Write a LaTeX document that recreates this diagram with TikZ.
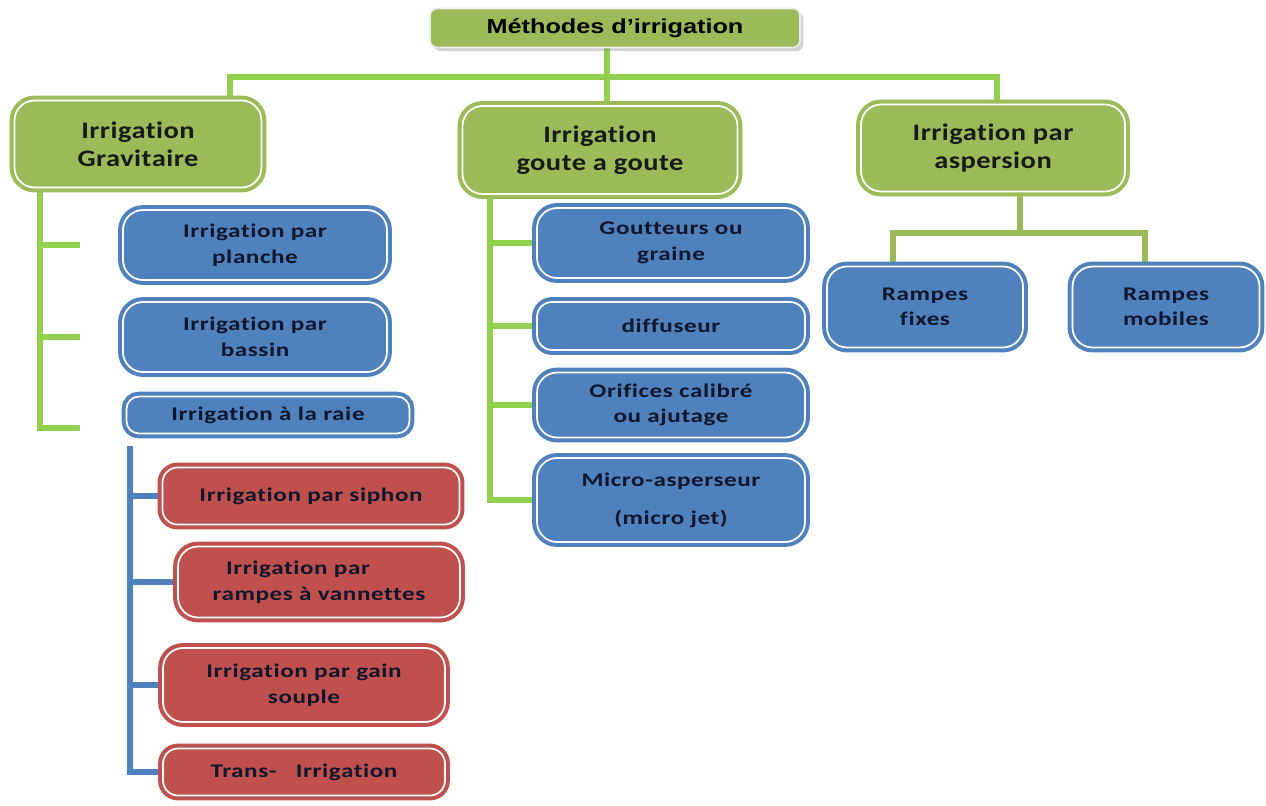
\documentclass[tikz,border=0pt]{standalone}
\usepackage{fontspec}
\setmainfont{Carlito}[Ligatures=NoCommon]
\newfontfamily\boxfont[FakeStretch=1.3, LetterSpace=3, Ligatures=NoCommon]{Carlito}
\newfontfamily\branchfont[FakeStretch=1.2, LetterSpace=2, Ligatures=NoCommon]{Carlito}
\newfontfamily\titlefont[FakeStretch=1.25]{Liberation Sans}
\usepackage{tikz}
\usetikzlibrary{shadows,backgrounds}

\definecolor{gfill}{RGB}{155,187,89}
\definecolor{gline}{RGB}{146,208,80}
\definecolor{bfill}{RGB}{79,129,189}
\definecolor{rfill}{RGB}{192,80,77}
\definecolor{ink}{RGB}{16,22,44}

\newcommand\topfont{\titlefont\bfseries\fontsize{11.5}{14}\selectfont}
\newcommand\brfont{\branchfont\bfseries\fontsize{13.5}{16}\selectfont}
\newcommand\tipfont{\boxfont\bfseries\fontsize{11}{14.5}\selectfont}

\begin{document}
\begin{tikzpicture}[x=0.02cm, y=-0.02cm,
	box/.style={rounded corners=0.4cm, line width=2.3pt, double=white, double distance=1pt, inner sep=0pt, align=center},
	topbox/.style={fill=gfill, draw=white!85!gray, line width=1pt, rounded corners=4pt, drop shadow={shadow xshift=2pt, shadow yshift=-2pt, opacity=.35}, font=\topfont, text=black},
	greenbox/.style={box, draw=gfill, fill=gfill, font=\brfont, text=black!90},
	bluebox/.style={box, draw=bfill, fill=bfill, font=\tipfont, text=ink},
	redbox/.style={box, draw=rfill, fill=rfill, font=\tipfont, text=ink},
	gwire/.style={draw=gline, line width=3.4pt},
	owire/.style={draw=gfill, line width=3.4pt},
	bwire/.style={draw=bfill, line width=3pt}]
	\useasboundingbox (0,0) rectangle (1266,805);

	% titre
	\node[topbox, minimum width=7.4cm, minimum height=0.78cm] (meth) at (615,28) {Méthodes d’irrigation};

	% trois methodes
	\node[greenbox, minimum width=4.94cm, minimum height=1.74cm] (grav) at (138,144) {Irrigation\\Gravitaire};
	\node[greenbox, minimum width=5.5cm, minimum height=1.76cm] (goute) at (600,150) {Irrigation\\goute a goute};
	\node[greenbox, minimum width=5.28cm, minimum height=1.74cm] (asp) at (993,148) {Irrigation par\\aspersion};

	% gravitaire
	\node[bluebox, minimum width=5.28cm, minimum height=1.4cm] (planche) at (255,245) {Irrigation par\\planche};
	\node[bluebox, minimum width=5.28cm, minimum height=1.4cm] (bassin) at (255,337) {Irrigation par\\bassin};
	\node[bluebox, rounded corners=0.25cm, minimum width=5.66cm, minimum height=0.74cm] (raie) at (268,415) {Irrigation à la raie};

	\node[redbox, rounded corners=0.3cm, minimum width=5.94cm, minimum height=1.14cm] (siphon) at (311,496) {Irrigation par siphon};
	\node[redbox, align=left, minimum width=5.64cm, minimum height=1.42cm] (vann) at (319,582) {\hspace{0.7em}Irrigation par\\rampes à vannettes};
	\node[redbox, minimum width=5.64cm, minimum height=1.48cm] (gain) at (304,685) {Irrigation par gain\\souple};
	\node[redbox, rounded corners=0.3cm, minimum width=5.64cm, minimum height=0.94cm] (trans) at (304,772) {Trans-\quad Irrigation};

	% goute a goute
	\node[bluebox, minimum width=5.36cm, minimum height=1.4cm] (gout) at (671,243) {Goutteurs ou\\graine};
	\node[bluebox, rounded corners=0.3cm, minimum width=5.36cm, minimum height=0.96cm] (diff) at (671,326) {diffuseur};
	\node[bluebox, minimum width=5.36cm, minimum height=1.3cm] (orif) at (671,405) {Orifices calibré\\ou ajutage};
	\node[bluebox, minimum width=5.36cm, minimum height=1.68cm] (micro) at (671,500) {Micro-asperseur\\[7pt](micro jet)};

	% aspersion
	\node[bluebox, minimum width=3.92cm, minimum height=1.62cm] (fixes) at (925,307) {Rampes\\fixes};
	\node[bluebox, minimum width=3.74cm, minimum height=1.62cm] (mobiles) at (1166,307) {Rampes\\mobiles};

	\begin{scope}[on background layer]
		\coordinate (busL) at (230,77);
		\coordinate (busM) at (607,77);
		\coordinate (busR) at (997,77);
		\draw[gwire] (busM |- meth.south) -- (busM |- goute.north);
		\draw[gwire] (busL |- grav.north) -- (busL) -- (busR) -- (busR |- asp.north);

		\coordinate (gsp) at (40,0);
		\draw[gwire, shorten >=0.9cm] (gsp |- grav.south) |- ([yshift=-0.26cm]raie.west);
		\foreach \n in {planche,bassin}
			\draw[gwire, shorten >=0.82cm] (gsp |- \n.west) -- (\n.west);

		\coordinate (bsp) at (130,0);
		\draw[bwire] ([yshift=-0.2cm]raie.south -| bsp) |- (trans.west);
		\foreach \n in {siphon,vann,gain}
			\draw[bwire] (bsp |- \n.west) -- (\n.west);

		\coordinate (dsp) at (490,0);
		\draw[gwire] (dsp |- goute.south) |- (micro.west);
		\foreach \n in {gout,diff,orif}
			\draw[gwire] (dsp |- \n.west) -- (\n.west);

		\coordinate (atap) at (1020,233);
		\coordinate (ftap) at (893,233);
		\coordinate (mtap) at (1145,233);
		\draw[owire] (atap |- asp.south) -- (atap);
		\draw[owire] (ftap |- fixes.north) -- (ftap) -- (mtap) -- (mtap |- mobiles.north);
	\end{scope}
\end{tikzpicture}
\end{document}
